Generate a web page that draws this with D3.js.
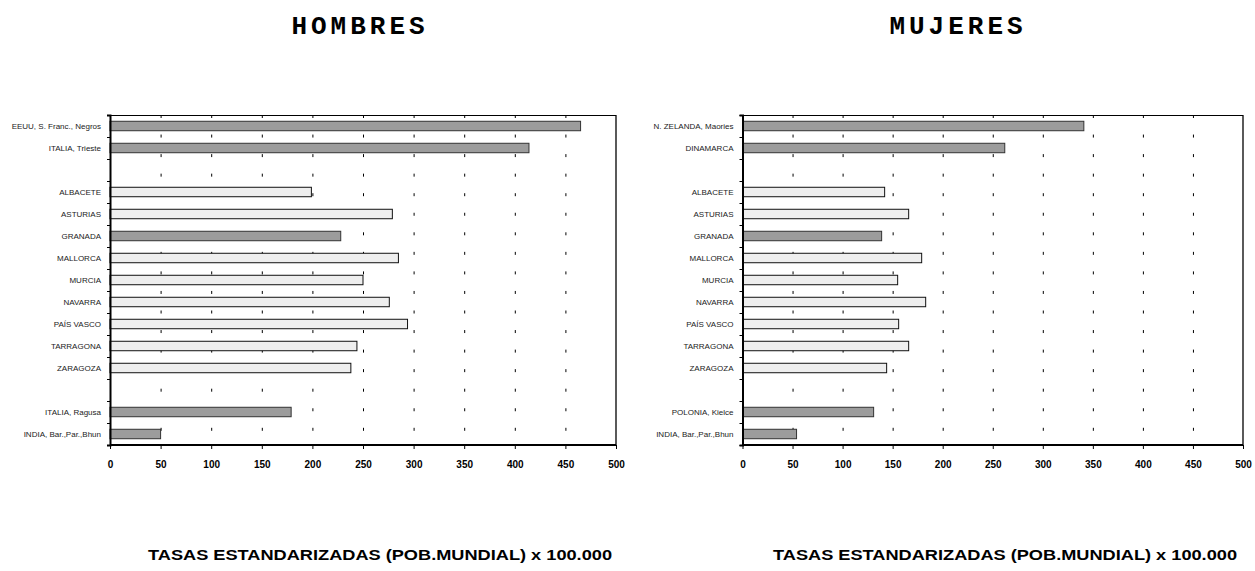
<!DOCTYPE html>
<html>
<head>
<meta charset="utf-8">
<script src="https://cdn.jsdelivr.net/npm/d3@7"></script>
<style>
  body { margin: 0; background: #fff; }
  svg { display: block; }
  .cat text { font-family: Arial, "Liberation Sans", sans-serif; font-size: 8px; fill: #222; }
  .xax text { font-family: Arial, "Liberation Sans", sans-serif; font-size: 10px; font-weight: bold; fill: #000; }
</style>
</head>
<body>
<svg width="1255" height="571"></svg>
<script>
// categories, top to bottom (blank entries = empty separator rows)
var menCats = ["EEUU, S. Franc., Negros", "ITALIA, Trieste", " ", "ALBACETE", "ASTURIAS", "GRANADA", "MALLORCA",
               "MURCIA", "NAVARRA", "PAÍS VASCO", "TARRAGONA", "ZARAGOZA", "  ", "ITALIA, Ragusa", "INDIA, Bar.,Par.,Bhun"];
var menVals = [465, 414, null, 199, 279, 228, 285, 250, 276, 294, 244, 238, null, 179, 50];
var menDark = [1, 1, 0, 0, 0, 1, 0, 0, 0, 0, 0, 0, 0, 1, 1];

var womenCats = ["N. ZELANDA, Maories", "DINAMARCA", " ", "ALBACETE", "ASTURIAS", "GRANADA", "MALLORCA",
                 "MURCIA", "NAVARRA", "PAÍS VASCO", "TARRAGONA", "ZARAGOZA", "  ", "POLONIA, Kielce", "INDIA, Bar.,Par.,Bhun"];
var womenVals = [341, 262, null, 142, 166, 139, 179, 155, 183, 156, 166, 144, null, 131, 54];
var womenDark = [1, 1, 0, 0, 0, 1, 0, 0, 0, 0, 0, 0, 0, 1, 1];

var xTicks = [0, 50, 100, 150, 200, 250, 300, 350, 400, 450, 500];
var axisTitle = "TASAS ESTANDARIZADAS (POB.MUNDIAL) x 100.000";

var svg = d3.select("svg");
var top_ = 115, bottom_ = 445;

function panel(cats, vals, dark, x0, x1, title, titleX, axisTitleX) {
  var g = svg.append("g");
  var x = d3.scaleLinear().domain([0, 500]).range([x0, x1]);
  var y = d3.scaleBand().domain(cats).range([top_, bottom_]).paddingInner(0.57).paddingOuter(0.285);
  var yb = d3.scaleLinear().domain([0, cats.length]).range([top_, bottom_]);

  // dashed gridlines
  g.selectAll(".grid")
    .data(xTicks.slice(1, -1))
    .enter().append("line")
    .attr("x1", function(d) { return x(d) + 0.5; })
    .attr("x2", function(d) { return x(d) + 0.5; })
    .attr("y1", top_).attr("y2", bottom_)
    .attr("stroke", "#000")
    .attr("stroke-width", 1)
    .attr("stroke-dasharray", "3,16.55");

  // top + right border
  g.append("line").attr("x1", x0).attr("x2", x1).attr("y1", top_ + 0.5).attr("y2", top_ + 0.5)
    .attr("stroke", "#000").attr("stroke-width", 1);
  g.append("line").attr("x1", x1).attr("x2", x1).attr("y1", top_).attr("y2", bottom_)
    .attr("stroke", "#000").attr("stroke-width", 1.3);

  // bars
  var rows = cats.map(function(c, i) { return {cat: c, v: vals[i], dark: dark[i]}; })
    .filter(function(d) { return d.v != null; });
  g.selectAll(".bar")
    .data(rows)
    .enter().append("rect")
    .attr("x", x(0))
    .attr("y", function(d) { return y(d.cat); })
    .attr("width", function(d) { return x(d.v) - x(0); })
    .attr("height", y.bandwidth())
    .attr("fill", function(d) { return d.dark ? "#9c9c9c" : "#eeeeee"; })
    .attr("stroke", function(d) { return d.dark ? "#333" : "#111"; })
    .attr("stroke-width", 1);

  // y axis: category labels
  var ya = g.append("g").attr("class", "cat")
    .attr("transform", "translate(" + x0 + ",0)")
    .call(d3.axisLeft(y).tickSize(0).tickPadding(9));
  ya.select(".domain").remove();
  // y ticks at band boundaries
  g.append("g")
    .attr("transform", "translate(" + x0 + ",0)")
    .call(d3.axisLeft(yb).tickValues(d3.range(cats.length + 1)).tickSize(3).tickFormat(""))
    .call(function(s) { s.select(".domain").attr("stroke-width", 2); });

  // x axis
  g.append("g").attr("class", "xax")
    .attr("transform", "translate(0," + bottom_ + ")")
    .call(d3.axisBottom(x).tickValues(xTicks).tickSize(4).tickPadding(12))
    .call(function(s) { s.select(".domain").attr("stroke-width", 2).attr("d", "M" + x0 + ",0H" + x1); });

  svg.append("text")
    .attr("x", titleX).attr("y", 34)
    .attr("text-anchor", "middle")
    .style("font-family", "'Courier New', 'Liberation Mono', monospace")
    .style("font-weight", "bold")
    .style("font-size", "26px")
    .style("letter-spacing", "4px")
    .text(title);

  svg.append("text")
    .attr("x", axisTitleX).attr("y", 560)
    .attr("text-anchor", "middle")
    .attr("textLength", 464)
    .attr("lengthAdjust", "spacingAndGlyphs")
    .style("font-family", "Arial, 'Liberation Sans', sans-serif")
    .style("font-weight", "bold")
    .style("font-size", "14px")
    .text(axisTitle);
}

panel(menCats, menVals, menDark, 110, 616, "HOMBRES", 360, 380);
panel(womenCats, womenVals, womenDark, 742.5, 1243, "MUJERES", 958, 1005);
</script>
</body>
</html>
